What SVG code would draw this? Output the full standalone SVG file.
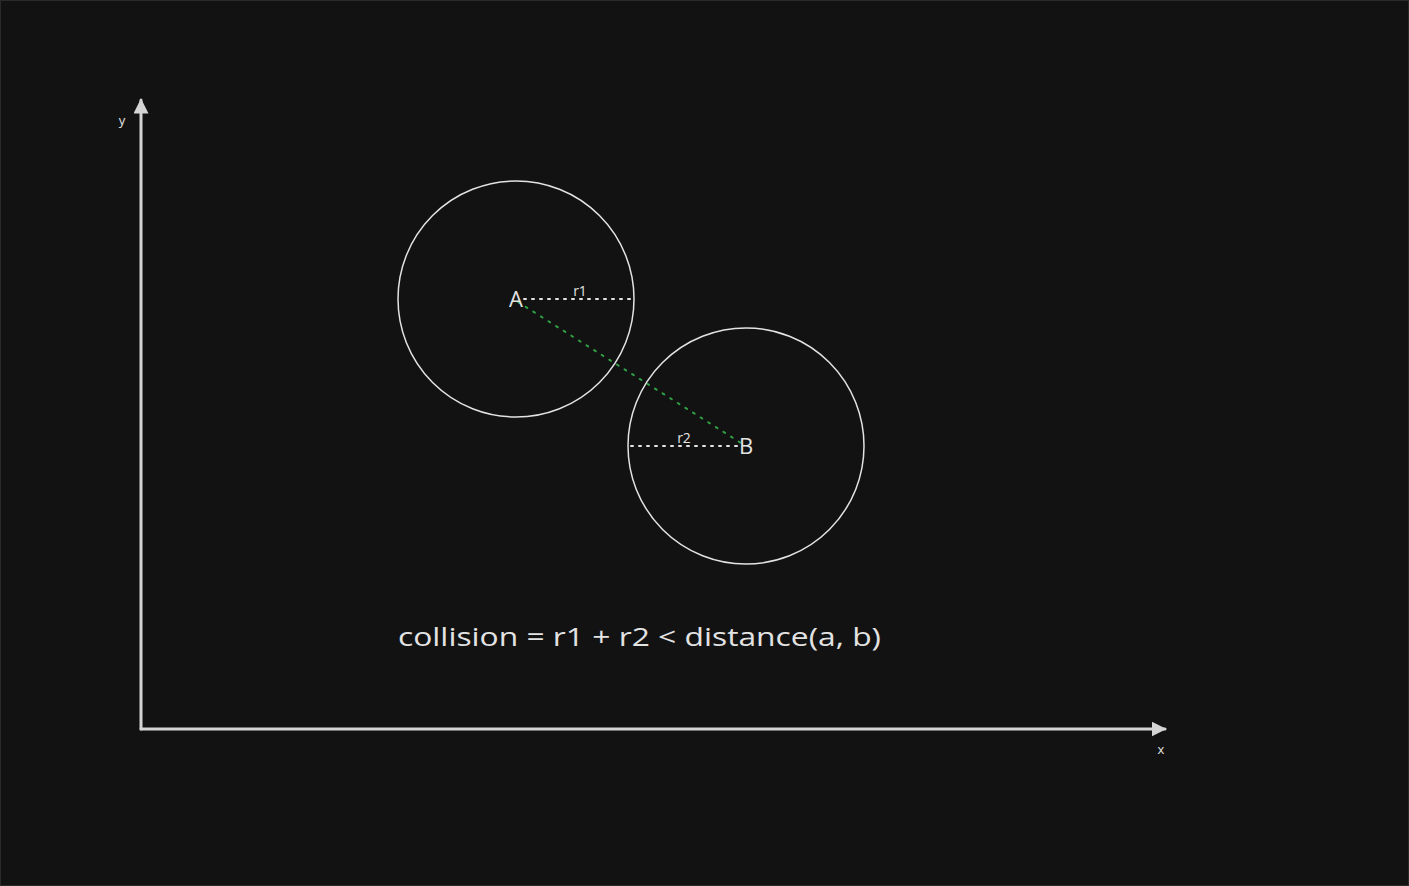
<svg xmlns="http://www.w3.org/2000/svg" width="1409" height="886" viewBox="0 0 1409 886">
<defs>
<style>
.axis{stroke:#d4d4d4;stroke-width:3;fill:none;stroke-linecap:round}
.circ{stroke:#e3e3e3;stroke-width:1.5;fill:none}
.dot{stroke:#e3e3e3;stroke-width:2;stroke-dasharray:2 6;fill:none;stroke-linecap:round}
.gdot{stroke:#2f9e44;stroke-width:2;stroke-dasharray:2 7;fill:none;stroke-linecap:round}
.t{fill:#e3e3e3;font-family:"Open Sans","Noto Sans",sans-serif}
</style>
<marker id="ah" viewBox="0 0 10 10" refX="9" refY="5" markerWidth="5" markerHeight="5" orient="auto" markerUnits="strokeWidth">
<path d="M0,0 L10,5 L0,10 Z" fill="#d4d4d4"/>
</marker>
</defs>
<rect x="0.5" y="0.5" width="1408" height="885" fill="#121212" stroke="#2a2a2a"/>
<g id="connectors">
<line class="axis" x1="141" y1="729" x2="141" y2="100" marker-end="url(#ah)"/>
<line class="axis" x1="141" y1="729" x2="1165" y2="729" marker-end="url(#ah)"/>
<line class="dot" x1="524" y1="299" x2="632" y2="299"/>
<line class="dot" x1="631" y1="446" x2="740" y2="446"/>
<line class="gdot" x1="518" y1="302" x2="741" y2="443"/>
</g>
<g id="circleA">
<circle class="circ" cx="516" cy="299" r="118"/>
<text class="t" x="516" y="307" font-size="22" text-anchor="middle">A</text>
<text class="t" x="580" y="296" font-size="14" text-anchor="middle">r1</text>
</g>
<g id="circleB">
<circle class="circ" cx="746" cy="446" r="118"/>
<text class="t" x="746" y="454" font-size="22" text-anchor="middle">B</text>
<text class="t" x="684" y="443" font-size="14" text-anchor="middle">r2</text>
</g>
<g id="labels">
<text class="t" x="122" y="125" font-size="13" text-anchor="middle">y</text>
<text class="t" x="1161" y="754" font-size="13" text-anchor="middle">x</text>
<text class="t" x="398" y="646" font-size="26" textLength="483" lengthAdjust="spacingAndGlyphs">collision = r1 + r2 &lt; distance(a, b)</text>
</g>
</svg>
